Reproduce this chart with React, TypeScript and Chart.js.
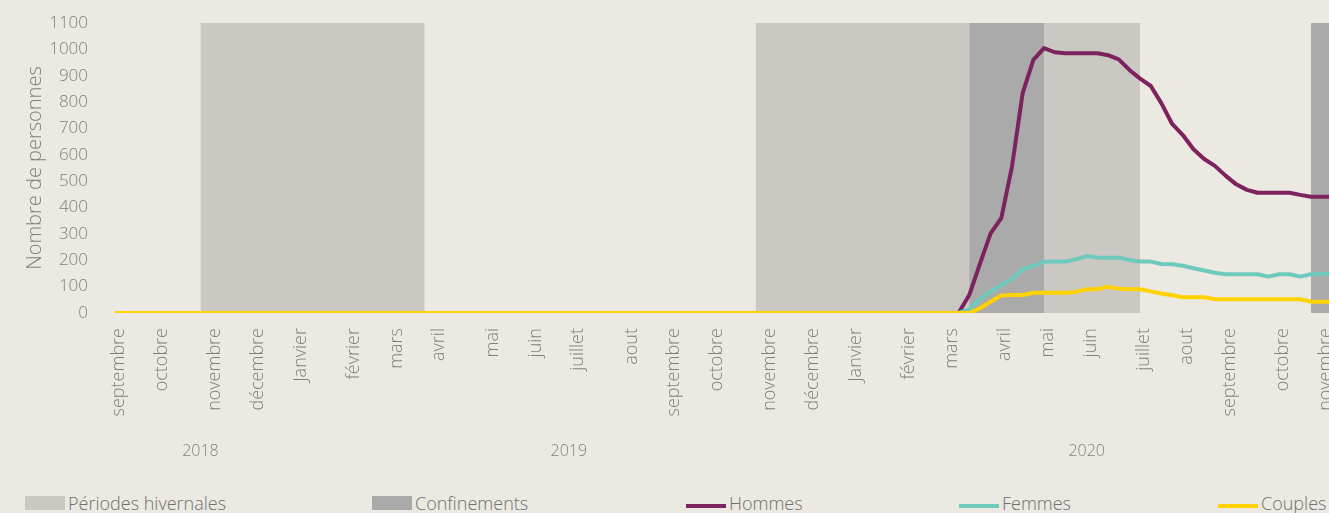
import React, { useEffect, useRef } from 'react';
import { Chart, registerables } from 'chart.js';

Chart.register(...registerables);

// ---------------- data ----------------
// x axis = weeks (week 0 = first week of September 2018)
const FIRST_WEEK = 0;
const LAST_WEEK = 115;
const Y_MAX = 1100;
const Y_STEP = 100;

const monthTickWeeks = [0, 4, 9, 13, 17, 22, 26, 30, 35, 39, 43, 48, 52, 56, 61, 65, 69, 74, 78, 83, 87, 91, 96, 100, 104, 109, 113];
const monthTickLabels = [
  'septembre', 'octobre', 'novembre', 'décembre', 'Janvier', 'février', 'mars', 'avril', 'mai', 'juin', 'juillet', 'aout',
  'septembre', 'octobre', 'novembre', 'décembre', 'Janvier', 'février', 'mars', 'avril', 'mai', 'juin', 'juillet', 'aout',
  'septembre', 'octobre', 'novembre',
];
const yearTickWeeks = [8, 42.5, 91];
const yearTickLabels = ['2018', '2019', '2020'];

const winterStarts = [8, 60];
const winterEnds = [29, 96];
const confinementStarts = [80, 112];
const confinementEnds = [87, 115];

// weekly values; each series is 0 from week 0 until its first listed week
const hommesFirstWeek = 79;
const hommesValues = [0, 68, 186, 302, 360, 555, 834, 960, 1005, 989, 985, 985, 985, 985, 978, 962, 922, 889, 861, 795, 717, 675, 621, 584, 558, 521, 488, 467, 456, 456, 456, 456, 448, 441, 441, 441, 441];
const femmesFirstWeek = 79;
const femmesValues = [0, 14, 53, 81, 106, 129, 166, 179, 195, 195, 195, 204, 216, 210, 210, 210, 201, 195, 195, 186, 185, 179, 170, 161, 153, 147, 147, 147, 147, 138, 147, 147, 138, 147, 148, 150, 150];
const couplesFirstWeek = 80;
const couplesValues = [0, 18, 43, 66, 68, 68, 77, 77, 77, 77, 80, 90, 90, 100, 92, 90, 90, 82, 74, 67, 60, 60, 60, 52, 52, 52, 52, 52, 52, 52, 52, 52, 43, 43, 43, 43];

const seriesNames = ['Hommes', 'Femmes', 'Couples'];
const periodNames = ['Périodes hivernales', 'Confinements'];

// ---------------- styles ----------------
const BG = '#ece8e2';
const WINTER_COLOR = '#cbc8c3';
const CONF_COLOR = '#aaaaaa';
const SERIES_COLORS = ['#7c225e', '#6fcabe', '#ffd200'];
const AXIS_TEXT = '#808080';
const LEGEND_TEXT = '#707070';
const FONT = '"Open Sans", "DejaVu Sans", sans-serif';

const monthByWeek = new Map<number, string>(monthTickWeeks.map((w, i) => [w, monthTickLabels[i]]));
const yearByWeek = new Map<number, string>(yearTickWeeks.map((w, i) => [w, yearTickLabels[i]]));

function seriesPoints(firstWeek: number, values: number[]) {
  return [{ x: FIRST_WEEK, y: 0 }, ...values.map((v, i) => ({ x: firstWeek + i, y: v }))];
}
function band(start: number, end: number) {
  return [{ x: start, y: Y_MAX }, { x: end, y: Y_MAX }];
}

const legendLayout = [
  { name: periodNames[0], kind: 'box', color: WINTER_COLOR, x: 25 },
  { name: periodNames[1], kind: 'box', color: CONF_COLOR, x: 372 },
  { name: seriesNames[0], kind: 'line', color: SERIES_COLORS[0], x: 686 },
  { name: seriesNames[1], kind: 'line', color: SERIES_COLORS[1], x: 959 },
  { name: seriesNames[2], kind: 'line', color: SERIES_COLORS[2], x: 1218 },
];

const hiddenGrid = (tickLength: number) => ({
  display: false, drawTicks: true, tickLength, color: 'transparent', tickColor: 'transparent',
});

export default function App() {
  const ref = useRef<HTMLCanvasElement | null>(null);

  useEffect(() => {
    document.documentElement.style.background = BG;
    document.body.style.margin = '0';
    document.body.style.background = BG;
    document.body.style.overflow = 'hidden';
    if (!ref.current) return;

    const bandSets = [
      ...winterStarts.map((s, i) => ({
        label: periodNames[0], data: band(s, winterEnds[i]), fill: 'origin', backgroundColor: WINTER_COLOR,
        borderColor: 'transparent', borderWidth: 0, pointRadius: 0, order: 10, xAxisID: 'x',
      })),
      ...confinementStarts.map((s, i) => ({
        label: periodNames[1], data: band(s, confinementEnds[i]), fill: 'origin', backgroundColor: CONF_COLOR,
        borderColor: 'transparent', borderWidth: 0, pointRadius: 0, order: 9, xAxisID: 'x',
      })),
    ];
    const lineSets = [
      { label: seriesNames[0], data: seriesPoints(hommesFirstWeek, hommesValues), order: 3 },
      { label: seriesNames[1], data: seriesPoints(femmesFirstWeek, femmesValues), order: 2 },
      { label: seriesNames[2], data: seriesPoints(couplesFirstWeek, couplesValues), order: 1 },
    ].map((d, i) => ({
      ...d, borderColor: SERIES_COLORS[i], backgroundColor: SERIES_COLORS[i], borderWidth: 4,
      pointRadius: 0, fill: false, tension: 0, xAxisID: 'x', borderJoinStyle: 'round' as const,
    }));

    const chart = new Chart(ref.current, {
      type: 'line',
      data: { datasets: [...bandSets, ...lineSets] as any },
      options: {
        responsive: false,
        animation: false,
        events: [],
        layout: { padding: { top: 23, right: 9, left: 0, bottom: 0 } },
        plugins: {
          legend: { display: false },
          tooltip: { enabled: false },
          filler: { drawTime: 'beforeDatasetsDraw' },
        } as any,
        scales: {
          x: {
            type: 'linear', position: 'bottom', weight: 0, min: FIRST_WEEK, max: LAST_WEEK,
            grid: hiddenGrid(13), border: { display: false },
            afterBuildTicks: (s: any) => { s.ticks = monthTickWeeks.map((v) => ({ value: v })); },
            afterFit: (s: any) => { s.height = 115; },
            ticks: {
              autoSkip: false, minRotation: 90, maxRotation: 90, padding: 2, labelOffset: 4, color: AXIS_TEXT,
              font: { family: FONT, size: 18, weight: '300' as any },
              callback: (v: any) => monthByWeek.get(Number(v)) ?? '',
            },
          },
          x2: {
            type: 'linear', position: 'bottom', weight: 1, min: FIRST_WEEK, max: LAST_WEEK,
            grid: hiddenGrid(12), border: { display: false },
            afterBuildTicks: (s: any) => { s.ticks = yearTickWeeks.map((v) => ({ value: v })); },
            afterFit: (s: any) => { s.height = 52; },
            ticks: {
              autoSkip: false, minRotation: 0, maxRotation: 0, padding: 2, color: AXIS_TEXT,
              font: { family: FONT, size: 16, weight: '300' as any },
              callback: (v: any) => yearByWeek.get(Number(v)) ?? '',
            },
          },
          y: {
            min: 0, max: Y_MAX,
            grid: hiddenGrid(25), border: { display: false },
            afterFit: (s: any) => { s.width = 115; },
            ticks: {
              stepSize: Y_STEP, padding: 2, color: AXIS_TEXT,
              font: { family: FONT, size: 17, weight: '300' as any },
              callback: (v: any) => String(v),
            },
            title: {
              display: true, text: 'Nombre de personnes', color: AXIS_TEXT,
              padding: { top: 23, bottom: 0 },
              font: { family: FONT, size: 20, weight: '300' as any },
            },
          },
        } as any,
      },
    });
    return () => chart.destroy();
  }, []);

  return (
    <div style={{ position: 'relative', width: 1329, height: 513, overflow: 'hidden', background: BG, fontFamily: FONT }}>
      <canvas ref={ref} width={1352} height={480} style={{ position: 'absolute', left: 0, top: 0 }} />
      {legendLayout.map((it) => (
        <React.Fragment key={it.name}>
          {it.kind === 'box' ? (
            <div style={{ position: 'absolute', left: it.x, top: 496, width: 40, height: 14, background: it.color }} />
          ) : (
            <div style={{ position: 'absolute', left: it.x, top: 504, width: 40, height: 4, background: it.color }} />
          )}
          <span style={{
            position: 'absolute', left: it.x + 43, top: 491, fontSize: 18, lineHeight: '24px',
            fontWeight: 300, color: LEGEND_TEXT, whiteSpace: 'nowrap',
          }}>{it.name}</span>
        </React.Fragment>
      ))}
    </div>
  );
}
